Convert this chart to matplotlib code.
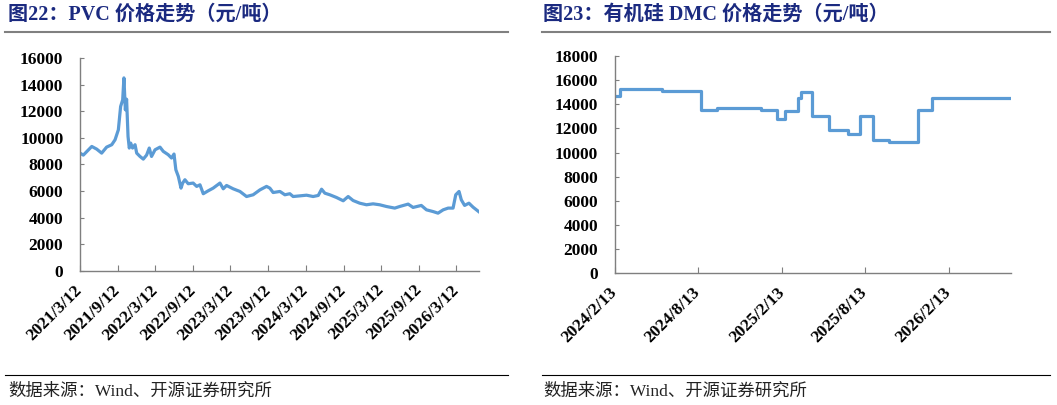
import numpy as np
import matplotlib
matplotlib.use("Agg")
import matplotlib.pyplot as plt
from matplotlib.lines import Line2D

# PVC price (yuan/ton)
pvc_dates = [
    "2021-03-12", "2021-03-28", "2021-05-08", "2021-06-01", "2021-06-25",
    "2021-07-19", "2021-08-13", "2021-08-29", "2021-09-14", "2021-09-25",
    "2021-10-05", "2021-10-11", "2021-10-18", "2021-10-24", "2021-10-31",
    "2021-11-06", "2021-11-13", "2021-11-22", "2021-12-04", "2021-12-12",
    "2021-12-28", "2022-01-13", "2022-01-29", "2022-02-11", "2022-02-22",
    "2022-03-11", "2022-04-04", "2022-04-20", "2022-05-14", "2022-05-30",
    "2022-06-11", "2022-06-20", "2022-07-02", "2022-07-15", "2022-07-23",
    "2022-08-03", "2022-08-19", "2022-09-12", "2022-09-29", "2022-10-15",
    "2022-10-31", "2022-11-24", "2022-12-18", "2023-01-20", "2023-02-05",
    "2023-02-21", "2023-03-25", "2023-04-27", "2023-05-29", "2023-06-30",
    "2023-08-02", "2023-09-03", "2023-09-19", "2023-10-05", "2023-11-07",
    "2023-12-01", "2023-12-25", "2024-01-10", "2024-02-12", "2024-03-15",
    "2024-04-16", "2024-05-11", "2024-05-27", "2024-06-12", "2024-07-06",
    "2024-08-07", "2024-09-09", "2024-10-03", "2024-10-27", "2024-11-28",
    "2024-12-31", "2025-02-01", "2025-03-05", "2025-04-07", "2025-05-17",
    "2025-06-10", "2025-07-21", "2025-08-14", "2025-09-23", "2025-10-18",
    "2025-11-19", "2025-12-13", "2026-01-07", "2026-01-31", "2026-02-24",
    "2026-03-09", "2026-03-25", "2026-04-05", "2026-04-21", "2026-05-12",
    "2026-06-01", "2026-06-28",
]
pvc_price = [
    8850, 8700, 9350, 9150, 8850,
    9300, 9480, 9850, 10600, 12350,
    12850, 14500, 12100, 12900, 10100,
    9230, 9600, 9230, 9480, 8850,
    8600, 8400, 8700, 9230, 8600,
    9100, 9300, 8980, 8730, 8480,
    8780, 7600, 7100, 6220, 6600,
    6850, 6550, 6600, 6350, 6470,
    5800, 6020, 6220, 6600, 6170,
    6420, 6170, 5970, 5590, 5720,
    6090, 6350, 6220, 5890, 5970,
    5720, 5800, 5590, 5640, 5690,
    5590, 5670, 6140, 5840, 5720,
    5520, 5270, 5590, 5290, 5090,
    4970, 5040, 4970, 4840, 4720,
    4840, 5020, 4770, 4920, 4590,
    4460, 4340, 4590, 4720, 4720,
    5720, 5970, 5340, 4920, 5090,
    4790, 4460,
]
pvc_ticks = ["2021-03-12", "2021-09-12", "2022-03-12", "2022-09-12",
             "2023-03-12", "2023-09-12", "2024-03-12", "2024-09-12",
             "2025-03-12", "2025-09-12", "2026-03-12"]

# Silicone DMC price (yuan/ton), step changes
dmc_dates = [
    "2024-02-13", "2024-02-25", "2024-05-26", "2024-08-19", "2024-08-20",
    "2024-09-24", "2024-12-28", "2025-02-03", "2025-02-19", "2025-03-20",
    "2025-03-27", "2025-04-20", "2025-05-28", "2025-07-07", "2025-08-02",
    "2025-08-31", "2025-10-06", "2025-12-07", "2026-01-08", "2026-06-27",
]
dmc_price = [
    14700, 15300, 15100, 14500, 13500,
    13700, 13500, 12800, 13400, 14500,
    15000, 13000, 11850, 11500, 13000,
    11000, 10900, 13500, 14500, 14500,
]
dmc_ticks = ["2024-02-13", "2024-08-13", "2025-02-13", "2025-08-13", "2026-02-13"]

line_color = "#5B9BD5"
title_color = "#1B2A80"
tick_font = ["Liberation Serif", "DejaVu Serif"]
mixed_font = ["Liberation Serif", "Noto Sans CJK SC"]

plt.rcParams["font.family"] = mixed_font

fig = plt.figure(figsize=(10.57, 4.05), dpi=100)


def style_axis(ax, ticks, ymax, xstart, xend):
    ax.set_ylim(0, ymax)
    ax.set_yticks(np.arange(0, ymax + 1, 2000))
    ax.set_xlim(np.datetime64(xstart), np.datetime64(xend))
    ax.set_xticks([np.datetime64(t) for t in ticks])
    labels = [t.replace("-0", "-").replace("-", "/") for t in ticks]
    ax.set_xticklabels(labels, rotation=45, ha="right", va="center",
                       rotation_mode="anchor")
    for lab in ax.get_xticklabels() + ax.get_yticklabels():
        lab.set_fontfamily(tick_font)
        lab.set_fontweight("bold")
        lab.set_fontsize(12.5)
    ax.spines["top"].set_visible(False)
    ax.spines["right"].set_visible(False)
    for s in ("left", "bottom"):
        ax.spines[s].set_color("#7f7f7f")
        ax.spines[s].set_linewidth(1.0)
    ax.tick_params(axis="x", direction="in", length=4, color="#7f7f7f", pad=12)
    ax.tick_params(axis="y", direction="in", length=3, color="#7f7f7f", pad=12)


ax1 = fig.add_axes([0.0757, 0.331, 0.3775, 0.526])
ax1.plot([np.datetime64(d) for d in pvc_dates], pvc_price,
         color=line_color, lw=2.3)
style_axis(ax1, pvc_ticks, 16000, "2021-03-12", "2026-06-30")

ax2 = fig.add_axes([0.5818, 0.325, 0.3744, 0.537])
ax2.plot([np.datetime64(d) for d in dmc_dates], dmc_price,
         color=line_color, lw=2.3, drawstyle="steps-post")
style_axis(ax2, dmc_ticks, 18000, "2024-02-13", "2026-06-29")

# titles
fig.text(8 / 1057, 1 - 15 / 405, "图22：PVC 价格走势（元/吨）", color=title_color,
         fontsize=14.5, fontweight="bold", va="center", ha="left")
fig.text(543 / 1057, 1 - 15 / 405, "图23：有机硅 DMC 价格走势（元/吨）", color=title_color,
         fontsize=14.5, fontweight="bold", va="center", ha="left")

# rules under titles and above sources
for x0, x1 in ((5, 508), (542, 1050)):
    fig.add_artist(Line2D([x0 / 1057, x1 / 1057], [1 - 31.5 / 405] * 2,
                          color="#808080", lw=1.5))
    fig.add_artist(Line2D([x0 / 1057, x1 / 1057], [1 - 375 / 405] * 2,
                          color="#000000", lw=0.8))

for x in (8, 543):
    fig.text(x / 1057, 1 - 392 / 405, "数据来源：Wind、开源证券研究所",
             fontsize=12.5, color="#222222", va="center", ha="left")

fig.savefig("out.png", dpi=100)
